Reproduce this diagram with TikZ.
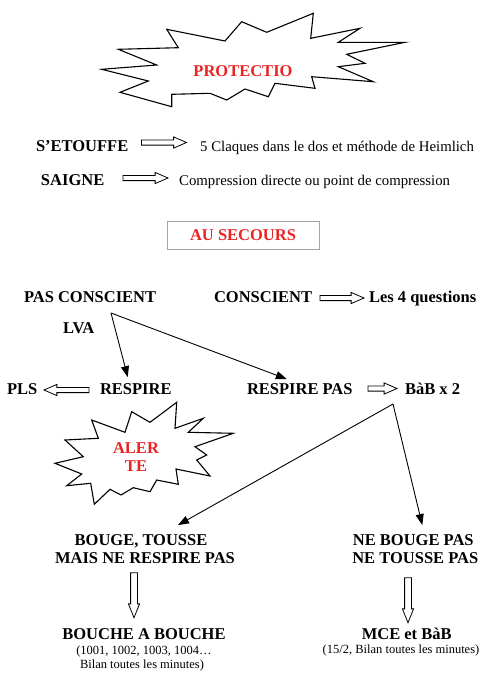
\documentclass[tikz,border=0pt]{standalone}
\usepackage{fontspec}
\setmainfont{Liberation Serif}
\usetikzlibrary{shapes.arrows,arrows.meta,calc}
\definecolor{alertred}{RGB}{232,36,36}
\definecolor{boxgray}{RGB}{165,165,165}
\begin{document}
\begin{tikzpicture}[x=1pt,y=-1pt,
  big/.style={font=\fontsize{16.5}{18}\selectfont\bfseries, inner sep=0pt, outer sep=0pt},
  med/.style={font=\fontsize{14.8}{17}\selectfont, inner sep=0pt},
  sml/.style={font=\fontsize{12.5}{14}\selectfont, inner sep=0pt},
  redt/.style={big, text=alertred},
  blk/.style={single arrow, draw, line width=0.8pt, fill=white, inner xsep=0pt,
    inner ysep=2.2pt, single arrow head extend=3pt, single arrow tip angle=47,
    single arrow head indent=0pt, outer sep=0pt},
  blkdown/.style={blk, rotate=-90, inner ysep=3pt, single arrow head extend=2.2pt,
    single arrow tip angle=44},
  flow/.style={line width=0.9pt, -{Triangle[length=11pt,width=8pt]}},
  starshape/.style={draw, line width=1.1pt, fill=white, line join=miter}
]
\useasboundingbox (0,0) rectangle (500,697);

% PROTECTIO star
\draw[starshape] (101.7,69.3) -- (156.7,65) -- (118.3,49.3) -- (178.3,47.7) -- (166.7,29.3)
  -- (225,41) -- (241.7,21.7) -- (266.7,32.3) -- (313.3,13.3) -- (310.7,38.3) -- (360,28.3)
  -- (338.3,42.3) -- (405,42.3) -- (346.7,54.3) -- (365,63.3) -- (338.3,66.7) -- (373.3,81.7)
  -- (311.7,76.7) -- (315,88.3) -- (275,83.3) -- (268.3,96.7) -- (245,89) -- (226.7,100)
  -- (210,93.3) -- (171.7,94.3) -- (171.7,106.7) -- (120,92.3) -- (148.3,81) -- cycle;
\node[redt, anchor=base] (protectio) at (243,76) {PROTECTIO};

% S'ETOUFFE / SAIGNE
\node[big, anchor=base west] (etouffe) at (36,151) {S’ETOUFFE};
\node[blk, minimum height=45pt] (a1) at (161,142.5) {};
\node[med, anchor=base west] (claques) at (200,151) {5 Claques dans le dos et méthode de Heimlich};

\node[big, anchor=base west] (saigne) at (41,185) {SAIGNE};
\node[blk, minimum height=45pt] (a2) at (142.5,178) {};
\node[med, anchor=base west] (compr) at (179,185) {Compression directe ou point de compression};

% AU SECOURS
\node[redt, draw=boxgray, line width=0.8pt, minimum width=152pt, minimum height=28pt]
  (secours) at (243,235) {AU SECOURS};

% Conscious / not
\node[big, anchor=base west] (pasconscient) at (24,302) {PAS CONSCIENT};
\node[big, anchor=base west] (conscient) at (214,302) {CONSCIENT};
\node[blk, minimum height=44pt] (a3) at (339,298) {};
\node[big, anchor=base west] (questions) at (369,302) {Les 4 questions};
\node[big, anchor=base west] (lva) at (63,333) {LVA};

\coordinate (p1) at (111,313);

\node[big, anchor=base west] (pls) at (7,394) {PLS};
\node[blk, minimum height=45pt, rotate=180] (a4) at (69.5,390) {};
\node[big, anchor=base west] (respire) at (100,394) {RESPIRE};
\node[big, anchor=base west] (respirepas) at (247,394) {RESPIRE PAS};
\node[blk, minimum height=29pt] (a5) at (379.5,388.5) {};
\node[big, anchor=base west] (bab) at (405,394) {BàB x 2};

\draw[flow] (p1) -- ([shift={(-8,-6)}]respire.north);
\draw[flow] (p1) -- ([shift={(-13,-4)}]respirepas.north);

% ALERTE star
\draw[starshape] (55,463.3) -- (83.3,456.7) -- (65,440) -- (98.3,438.3) -- (91.7,420)
  -- (125,432.3) -- (131.7,411.7) -- (150,422.3) -- (176.7,402.3) -- (175,428.3)
  -- (203.3,418.3) -- (188.3,432.3) -- (233.3,433.3) -- (195,446.7) -- (206.7,455)
  -- (196.7,460) -- (210,476) -- (176,469) -- (178.3,484.3) -- (156.7,480) -- (150,491.7)
  -- (133.3,487.7) -- (121,495) -- (110,489.3) -- (94.3,504.3) -- (90.7,483.3)
  -- (66.7,485.7) -- (81.7,474) -- cycle;
\node[redt, anchor=base] (aler) at (136,453) {ALER};
\node[redt, anchor=base] (te) at (136,471) {TE};

\coordinate (p2) at (393,404);

% Bottom branches
\node[big, anchor=base] (bouge1) at (141,545) {BOUGE, TOUSSE};
\node[big, anchor=base] (bouge2) at (145,563) {MAIS NE RESPIRE PAS};
\node[big, anchor=base] (nebouge1) at (413.3,545) {NE BOUGE PAS};
\node[big, anchor=base] (nebouge2) at (415.3,563) {NE TOUSSE PAS};

\draw[flow] (p2) -- ([shift={(37,-9)}]bouge1.north);
\draw[flow] (p2) -- ([shift={(9,-9)}]nebouge1.north);

\node[blkdown, minimum height=45pt] (a6) at (134,591) {};
\node[blkdown, minimum height=45pt] (a7) at (408,596) {};

\node[big, anchor=base] (bab1) at (144,639) {BOUCHE A BOUCHE};
\node[sml, anchor=base] (bab2) at (144,654) {(1001, 1002, 1003, 1004…};
\node[sml, anchor=base] (bab3) at (142,668) {Bilan toutes les minutes)};

\node[big, anchor=base] (mce1) at (406.7,639) {MCE et BàB};
\node[sml, anchor=base] (mce2) at (401,653.5) {(15/2, Bilan toutes les minutes)};
\end{tikzpicture}
\end{document}
